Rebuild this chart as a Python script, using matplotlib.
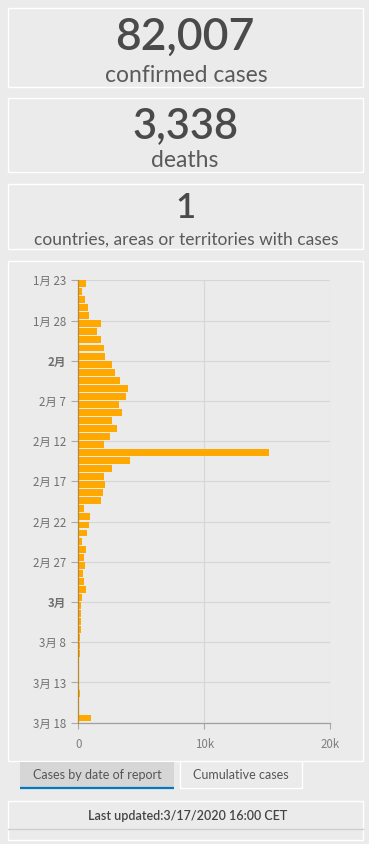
import matplotlib
matplotlib.use("Agg")
from matplotlib import pyplot as plt
from matplotlib.patches import Rectangle
import pandas as pd

# headline numbers
confirmed = "82,007"
deaths = "3,338"
countries = "1"

# daily cases by date of report
dates = pd.date_range("2020-01-23", "2020-03-17")
cases = [580, 265, 500, 740, 820, 1770, 1450, 1770, 2000, 2090,
         2650, 2880, 3280, 3920, 3760, 3200, 3440, 2650, 3040, 2490,
         2010, 15170, 4075, 2646, 2011, 2090, 1932, 1773, 423, 900,
         820, 662, 265, 582, 423, 503, 344, 423, 582, 265,
         210, 210, 210, 210, 130, 130, 130, 50, 50, 30,
         30, 100, 25, 25, 1005]

tick_dates = pd.date_range("2020-01-23", "2020-03-18", freq="5D")
tick_labels = ["1月 23", "1月 28", "2月", "2月 7", "2月 12", "2月 17",
               "2月 22", "2月 27", "3月", "3月 8", "3月 13", "3月 18"]
x_ticks = [0, 10000, 20000]
x_labels = ["0", "10k", "20k"]

W, H = 369, 844
bg_col = "#ebebeb"
txt = ["Lato", "DejaVu Sans"]
cjk = ["Noto Sans CJK SC", "DejaVu Sans"]

fig = plt.figure(figsize=(W / 100, H / 100), dpi=100, facecolor=bg_col)

# background layer in pixel coords
bg = fig.add_axes([0, 0, 1, 1])
bg.set_xlim(0, W)
bg.set_ylim(H, 0)
bg.axis("off")

def box(x0, y0, x1, y1, **kw):
    bg.add_patch(Rectangle((x0, y0), x1 - x0, y1 - y0, fill=False,
                           ec="white", lw=1.0, **kw))

# indicator panels
box(7.5, 7.5, 363, 86.5)
box(7.5, 97.5, 363, 172)
box(7.5, 183.5, 363, 249)
bg.text(185, 50, confirmed, ha="center", va="baseline", fontsize=32,
        color="#4a4a4a", family=txt, fontweight="semibold")
bg.text(186, 81.5, "confirmed cases", ha="center", va="baseline",
        fontsize=16.5, color="#5a5a5a", family=txt)
bg.text(185, 138.3, deaths, ha="center", va="baseline", fontsize=30,
        color="#4a4a4a", family=txt, fontweight="semibold")
bg.text(185, 166.7, "deaths", ha="center", va="baseline",
        fontsize=16.5, color="#5a5a5a", family=txt)
bg.text(185, 218.3, countries, ha="center", va="baseline", fontsize=25,
        color="#4a4a4a", family=txt, fontweight="semibold")
bg.text(186, 245, "countries, areas or territories with cases", ha="center",
        va="baseline", fontsize=12.5, color="#5a5a5a", family=txt)

# chart panel
box(7.5, 260.7, 363, 761.3)

# tabs
bg.add_patch(Rectangle((20.3, 761.5), 154, 26, fc="#d6d6d6", ec="none"))
bg.plot([20.3, 174.3], [787.5, 787.5], color="#0079c1", lw=1.6,
        solid_capstyle="butt")
bg.text(97.5, 775, "Cases by date of report", ha="center", va="center",
        fontsize=9, color="#555555", family=txt)
bg.plot([180.3, 180.3, 301.7, 301.7], [761.5, 788.3, 788.3, 761.5],
        color="white", lw=1.0)
bg.text(241, 775, "Cumulative cases", ha="center", va="center",
        fontsize=9, color="#555555", family=txt)

# last updated panel
box(7.5, 801, 363, 840)
bg.plot([7.5, 363], [829, 829], color="#cfcfcf", lw=1.0)
bg.text(187.5, 816, "Last updated:3/17/2020 16:00 CET", ha="center",
        va="center", fontsize=9, color="#444444", family=txt,
        fontweight="semibold")

# bar chart
ax = fig.add_axes([78.3 / W, 1 - 722.7 / H, 252 / W, 442.4 / H])
ax.set_facecolor("none")
ax.barh(dates + pd.Timedelta(hours=10), cases, height=0.86,
        color="#ffa800", zorder=3)
ax.set_xlim(0, 20000)
ax.set_ylim(pd.Timestamp("2020-03-18"), pd.Timestamp("2020-01-23"))

ax.set_yticks(tick_dates)
ax.set_yticklabels(tick_labels, family=cjk, fontsize=8.3, color="#707070")
for lab in ax.get_yticklabels():
    if lab.get_text() in ("2月", "3月"):
        lab.set_fontweight("bold")
ax.set_xticks(x_ticks)
ax.set_xticklabels(x_labels, family=cjk, fontsize=8.3, color="#808080")

ax.grid(True, color="#d6d6d6", lw=0.8, zorder=0)
ax.tick_params(axis="y", length=5, width=0.8, color="#aaaaaa", pad=4)
ax.tick_params(axis="x", length=4, width=0.8, color="#aaaaaa", pad=7)
for s in ["top", "right"]:
    ax.spines[s].set_visible(False)
ax.spines["left"].set_color("#b98a2e")
ax.spines["left"].set_linewidth(0.9)
ax.spines["left"].set_zorder(4)
ax.spines["bottom"].set_color("#a0a0a0")
ax.spines["bottom"].set_linewidth(0.9)

fig.savefig("out.png", dpi=100, facecolor=bg_col)
